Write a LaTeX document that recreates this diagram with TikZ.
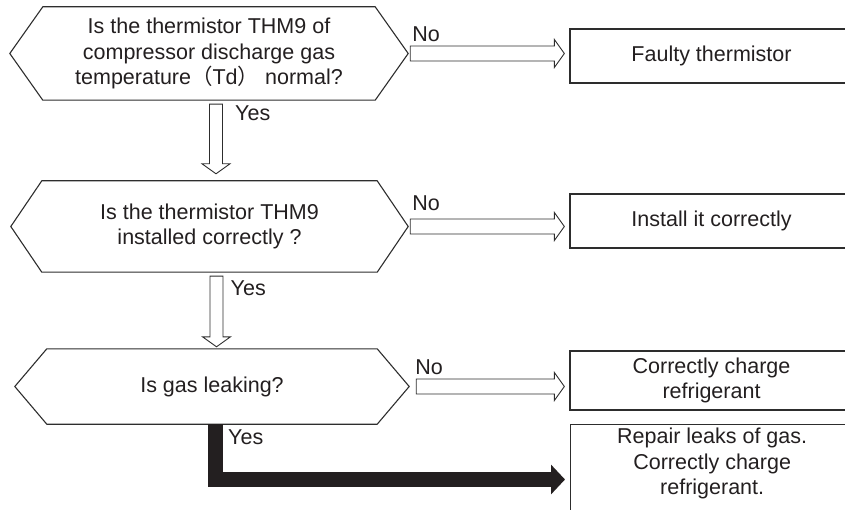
\documentclass[tikz,border=0pt]{standalone}
\usepackage{fontspec}
\setmainfont{Liberation Sans}
\newfontfamily\cjk{Noto Sans CJK SC}
\usepackage{tikz}
\usetikzlibrary{arrows.meta, positioning, calc}
\definecolor{linegray}{RGB}{45, 45, 45}
\definecolor{darktext}{RGB}{35, 31, 32}

% hollow block arrows
\newcommand{\hollowright}[2]{%
  \draw[hollow] let \p1=(#1), \p2=(#2) in
    (\x1,\y1+7.5pt) -- (\x2-15pt,\y1+7.5pt) -- (\x2-15pt,\y1+14pt) -- (\x2-5pt,\y1)
    -- (\x2-15pt,\y1-14pt) -- (\x2-15pt,\y1-7.5pt) -- (\x1,\y1-7.5pt) -- cycle;}
\newcommand{\hollowdown}[2]{%
  \draw[hollow] let \p1=(#1), \p2=(#2) in
    (\x1-6.5pt,\y1) -- (\x1-6.5pt,\y2+10pt) -- (\x1-14pt,\y2+10pt) -- (\x1,\y2)
    -- (\x1+14pt,\y2+10pt) -- (\x1+6.5pt,\y2+10pt) -- (\x1+6.5pt,\y1) -- cycle;}

\begin{document}
\begin{tikzpicture}[
    x=1pt, y=-1pt,
    txt/.style={font=\fontsize{21.5}{25.5}\selectfont, text=darktext, align=center},
    question/.style={txt, rectangle, inner sep=0pt},
    hexline/.style={draw=linegray, line width=1.1pt, line join=miter},
    fixbox/.style={txt, rectangle, draw=linegray, line width=1.3pt, inner sep=0pt,
                   minimum width=283},
    lbl/.style={font=\fontsize{21.5}{25.5}\selectfont, text=darktext, inner sep=0pt, anchor=west},
    hollow/.style={draw=linegray, line width=0.9pt, fill=white, line join=miter},
    leakarrow/.style={draw=darktext, line width=15pt, line join=miter,
                      -{Triangle[length=14pt, width=29pt]}}
]
\useasboundingbox (0,0) rectangle (845,510);

% Questions
\node[question, minimum width=332, minimum height=93] (q1) at (209,53.5)
  {Is the thermistor THM9 of\\compressor discharge gas\\temperature{\cjk （}Td{\cjk ）} normal?};
\node[question, minimum width=335, minimum height=91] (q2) at (209.5,226.5)
  {Is the thermistor THM9\\installed correctly ?};
\node[question, minimum width=330, minimum height=75] (q3) at (212,386.5)
  {Is gas leaking?};
\foreach \q/\d in {q1/33, q2/31, q3/32}
  \draw[hexline] (\q.north west) -- (\q.north east) -- ([xshift=\d]\q.east)
    -- (\q.south east) -- (\q.south west) -- ([xshift=-\d]\q.west) -- cycle;

% Remedies
\node[fixbox, minimum height=54] (fix1) at (711.5,56) {Faulty thermistor};
\node[fixbox, minimum height=54] (fix2) at (711.5,221) {Install it correctly};
\node[fixbox, minimum height=59] (fix3) at (711.5,380.5) {Correctly charge\\refrigerant};
\node[fixbox, minimum height=100, anchor=north west] (fix4) at (570,424) {};
\node[txt] (fix4txt) at ($(fix4.north)+(0,39.5)$)
  {Repair leaks of gas.\\Correctly charge\\refrigerant.};

% Arrows
\hollowright{[xshift=35]q1.east}{fix1.west}
\hollowright{[xshift=33]q2.east}{fix2.west}
\hollowright{[xshift=39]q3.east}{fix3.west}
\hollowdown{$(q1.south)+(7,4)$}{$(q2.north)+(7,-7)$}
\hollowdown{$(q2.south)+(7,4)$}{$(q3.north)+(4,-2)$}
\coordinate (leakend) at ($(fix4.north west)+(-5,55.5)$);
\draw[leakarrow] ($(q3.south)+(3.5,0)$) |- (leakend);

% Labels
\node[lbl] (no1) at ($(q1.east)+(37,-19.5)$) {No};
\node[lbl] (no2) at ($(q2.east)+(35,-23.5)$) {No};
\node[lbl] (no3) at ($(q3.east)+(38,-19.5)$) {No};
\node[lbl] (yes1) at ($(q1.south)+(26,13)$) {Yes};
\node[lbl] (yes2) at ($(q2.south)+(21,16)$) {Yes};
\node[lbl] (yes3) at ($(q3.south)+(16,13)$) {Yes};

\end{tikzpicture}
\end{document}
